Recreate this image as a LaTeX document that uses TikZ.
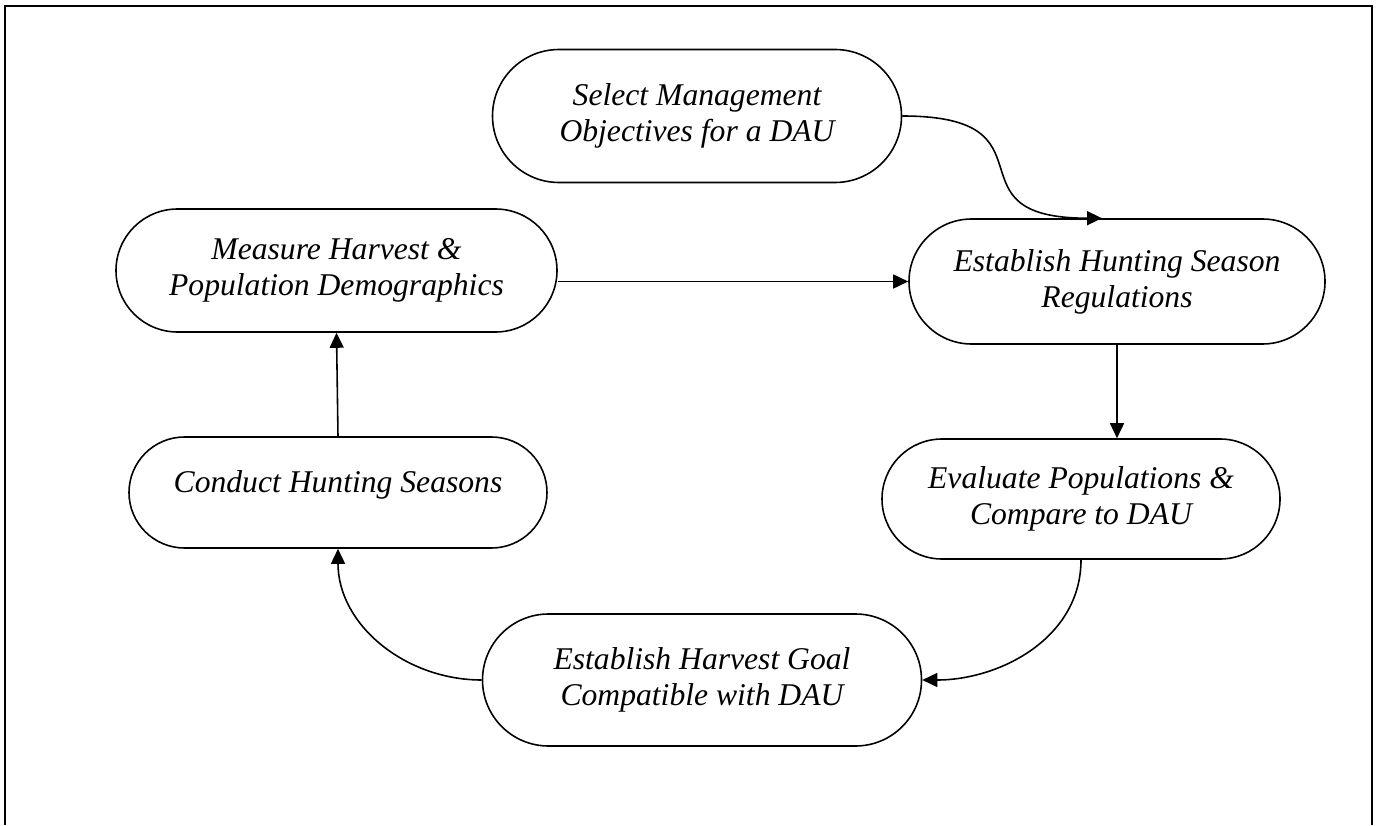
\documentclass[tikz,border=0pt]{standalone}
\usepackage{fontspec}
\setmainfont{Liberation Serif}
\usetikzlibrary{calc,shapes.misc,arrows.meta}

\begin{document}
\begin{tikzpicture}[
    stage/.style={draw, line width=0.9pt, rounded rectangle, align=center, inner sep=0pt, font=\itshape\fontsize{18}{20.5}\selectfont},
    flow/.style={line width=0.9pt, -{Triangle[length=0.3cm, width=0.28cm]}}
]

    % Frame
    \useasboundingbox (0,0) rectangle (27.54,16.5);
    \draw[line width=1.4pt] (0.1,0) -- (0.1,16.38) -- (27.44,16.38) -- (27.44,0);

    % Stages
    \node[stage, minimum width=8.18cm, minimum height=2.66cm] (objectives) at (13.94,14.18) {Select Management\\Objectives for a DAU};
    \node[stage, minimum width=8.32cm, minimum height=2.5cm] (regulations) at (22.34,10.87) {Establish Hunting Season\\Regulations};
    \node[stage, minimum width=7.96cm, minimum height=2.4cm] (evaluate) at (21.62,6.52) {Evaluate Populations \&\\Compare to DAU};
    \node[stage, minimum width=8.78cm, minimum height=2.64cm] (goal) at (14.04,2.9) {Establish Harvest Goal\\Compatible with DAU};
    \node[stage, minimum width=8.36cm, minimum height=2.22cm, text height=0.45cm, text depth=0.45cm] (seasons) at (6.76,6.65) {Conduct Hunting Seasons};
    \node[stage, minimum width=8.82cm, minimum height=2.46cm] (measure) at (6.73,11.09) {Measure Harvest \&\\Population Demographics};

    % Arrows
    \coordinate (entry) at ($(regulations.north)+(-0.3,0)$);
    \draw[flow] (objectives.east) to[out=0, in=180, distance=3.2cm] (entry);
    \draw[flow] (regulations.west -| measure.east) -- (regulations.west);
    \draw[flow] (regulations.south) -- (regulations.south |- evaluate.north);
    \draw[flow] (evaluate.south) to[out=-90, in=0] (goal.east);
    \draw[flow] (goal.west) to[out=180, in=-90] (seasons.south);
    \draw[flow] (seasons.north) -- (measure.south);

\end{tikzpicture}
\end{document}
